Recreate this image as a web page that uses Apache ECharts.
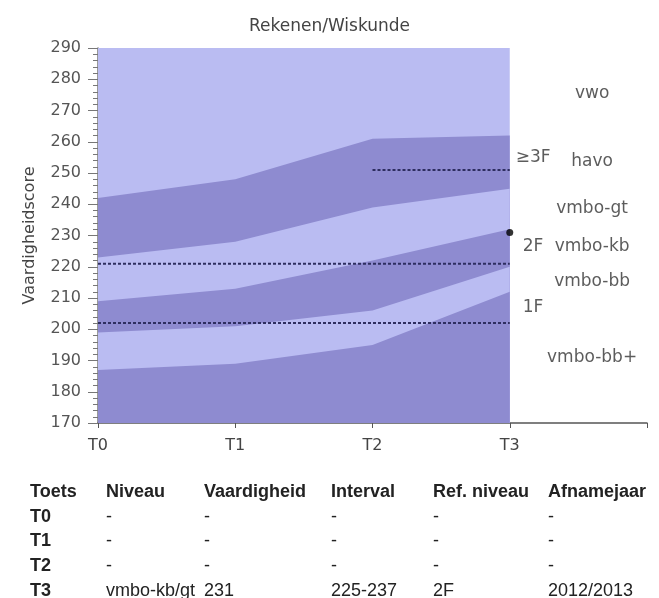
<!DOCTYPE html>
<html>
<head>
<meta charset="utf-8">
<script src="https://cdn.jsdelivr.net/npm/echarts@6/dist/echarts.min.js"></script>
<style>
  html, body { margin: 0; padding: 0; background: #fff; }
  #chart { width: 659px; height: 598px; }
</style>
</head>
<body>
<div id="chart"></div>
<script>
// toetsmomenten
const categories = ['T0', 'T1', 'T2', 'T3']

// grenzen van de niveaubanden (vaardigheidscore per toets)
const scaleTop = [290, 290, 290, 290]
const havoTop = [242, 248, 261, 262]
const havoBottom = [223, 228, 239, 245]
const kbTop = [209, 213, 222, 232]
const kbBottom = [199, 201, 206, 220]
const bbPlusTop = [187, 189, 195, 212]

// referentieniveaus
const refNames = ['1F', '2F', '≥3F']
const refScores = [202, 221, 251]
const refFrom = [0, 0, 2]
const refLabelScores = [206.8, 226.3, 255]

// niveau labels rechts
const levelNames = ['vwo', 'havo', 'vmbo-gt', 'vmbo-kb', 'vmbo-bb', 'vmbo-bb+']
const levelLabelScores = [275.5, 253.5, 238.5, 226.3, 215.4, 191]

// leerling
const studentTest = 3
const studentScore = 231

// tabel
const tableHeader = ['Toets', 'Niveau', 'Vaardigheid', 'Interval', 'Ref. niveau', 'Afnamejaar']
const tableRows = [
  ['T0', '-', '-', '-', '-', '-'],
  ['T1', '-', '-', '-', '-', '-'],
  ['T2', '-', '-', '-', '-', '-'],
  ['T3', 'vmbo-kb/gt', '231', '225-237', '2F', '2012/2013']
]

const LIGHT = '#babcf2'
const DARK = '#8e8bd0'
const chartFont = 'DejaVu Sans'
const tableFont = 'Liberation Sans'

const toPairs = (arr) => arr.map((v, i) => [i, v])

const boundary = (data, color) => ({
  type: 'line',
  data: toPairs(data),
  symbol: 'none',
  silent: true,
  lineStyle: { width: 0 },
  areaStyle: { color: color, opacity: 1, origin: 'start' },
  animation: false
})

const chart = echarts.init(document.getElementById('chart'))

const colX = [30, 106, 204, 331, 433, 548]
const headerY = 492
const rowY = [517, 541, 566, 591]
const graphics = []
tableHeader.forEach((h, c) => {
  graphics.push({
    type: 'text',
    x: colX[c],
    y: headerY,
    style: {
      text: h,
      font: 'bold 18px ' + tableFont,
      fill: '#222',
      textVerticalAlign: 'middle'
    }
  })
})
tableRows.forEach((row, r) => {
  row.forEach((cell, c) => {
    graphics.push({
      type: 'text',
      x: colX[c],
      y: rowY[r],
      style: {
        text: cell,
        font: (c === 0 ? 'bold ' : '') + '18px ' + tableFont,
        fill: '#222',
        textVerticalAlign: 'middle'
      }
    })
  })
})

chart.setOption({
  animation: false,
  title: {
    text: 'Rekenen/Wiskunde',
    left: 'center',
    top: 13,
    textStyle: { fontFamily: chartFont, fontSize: 17, fontWeight: 'normal', color: '#444' }
  },
  grid: { left: 98, right: 12, top: 48, bottom: 175 },
  xAxis: {
    type: 'value',
    min: 0,
    max: 4,
    interval: 1,
    axisLine: { show: true, lineStyle: { color: '#555', width: 1.5 } },
    axisTick: { show: true, length: 5, lineStyle: { color: '#555' } },
    splitLine: { show: false },
    axisLabel: {
      margin: 15,
      fontFamily: chartFont,
      fontSize: 16,
      color: '#444',
      formatter: (v) => categories[v] || ''
    }
  },
  yAxis: {
    type: 'value',
    min: 170,
    max: 290,
    interval: 10,
    name: 'Vaardigheidscore',
    nameLocation: 'middle',
    nameGap: 60,
    nameTextStyle: { fontFamily: chartFont, fontSize: 16, color: '#444' },
    axisLine: { show: true, lineStyle: { color: '#777', width: 1.5 } },
    axisTick: { show: true, length: 10, lineStyle: { color: '#777' } },
    minorTick: { show: true, splitNumber: 5, length: 5, lineStyle: { color: '#777' } },
    splitLine: { show: false },
    axisLabel: { margin: 17, fontFamily: chartFont, fontSize: 16, color: '#555' }
  },
  graphic: graphics,
  series: [
    boundary(scaleTop, LIGHT),
    boundary(havoTop, DARK),
    boundary(havoBottom, LIGHT),
    boundary(kbTop, DARK),
    boundary(kbBottom, LIGHT),
    boundary(bbPlusTop, DARK),
    ...refScores.map((s, i) => ({
      type: 'line',
      data: [[refFrom[i], s], [categories.length - 1, s]],
      symbol: 'none',
      silent: true,
      lineStyle: { color: '#2e2e60', width: 2, type: [3, 2] },
      z: 3
    })),
    {
      type: 'scatter',
      data: [[studentTest, studentScore]],
      symbolSize: 7,
      itemStyle: { color: '#000' },
      z: 4
    },
    {
      type: 'scatter',
      silent: true,
      symbolSize: 1,
      itemStyle: { color: 'rgba(0,0,0,0)' },
      label: {
        show: true,
        position: 'inside',
        fontFamily: chartFont,
        fontSize: 17,
        color: '#333',
        formatter: (p) => p.name
      },
      data: levelNames.map((n, i) => ({ name: n, value: [3.6, levelLabelScores[i]] }))
        .concat(refNames.map((n, i) => ({ name: n, value: [3.17, refLabelScores[i]] })))
    }
  ]
})
</script>
</body>
</html>
